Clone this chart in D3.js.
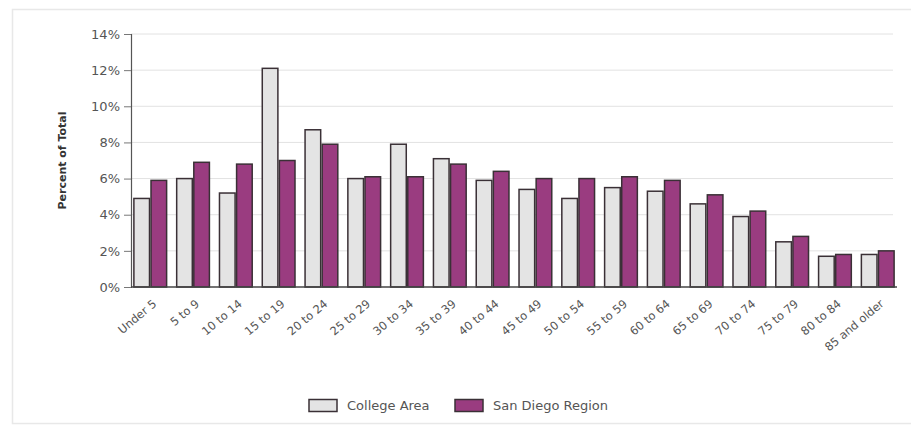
<!DOCTYPE html>
<html>
<head>
<meta charset="utf-8">
<script src="https://cdn.jsdelivr.net/npm/d3@7"></script>
<style>
  html, body { margin: 0; padding: 0; background: #fff; }
  svg { display: block; }
</style>
</head>
<body>
<svg id="chart" width="911" height="430"></svg>
<script>
const categories = ["Under 5","5 to 9","10 to 14","15 to 19","20 to 24","25 to 29","30 to 34","35 to 39","40 to 44","45 to 49","50 to 54","55 to 59","60 to 64","65 to 69","70 to 74","75 to 79","80 to 84","85 and older"];
const collegeArea = [4.9, 6.0, 5.2, 12.1, 8.7, 6.0, 7.9, 7.1, 5.9, 5.4, 4.9, 5.5, 5.3, 4.6, 3.9, 2.5, 1.7, 1.8];
const sanDiegoRegion = [5.9, 6.9, 6.8, 7.0, 7.9, 6.1, 6.1, 6.8, 6.4, 6.0, 6.0, 6.1, 5.9, 5.1, 4.2, 2.8, 1.8, 2.0];
const yTicks = [0, 2, 4, 6, 8, 10, 12, 14];
const seriesNames = ["College Area", "San Diego Region"];
const seriesColors = ["#e4e4e4", "#9a3c80"];

(function () {
const svg = d3.select("#chart");
const font = "'DejaVu Sans', Verdana, sans-serif";

// frame
svg.append("rect").attr("x", 12.5).attr("y", 9.5).attr("width", 905).attr("height", 414)
  .attr("fill", "none").attr("stroke", "#e8e8e8").attr("stroke-width", 1.5);

const pLeft = 131, pRight = 897, pTop = 34, pBottom = 287;
const x = d3.scaleBand().domain(categories).range([pLeft, pRight]).paddingInner(0.2).paddingOuter(0.05);
const xs = d3.scaleBand().domain(seriesNames).range([0, x.bandwidth()]).padding(0);
const y = d3.scaleLinear().domain([0, 14]).range([pBottom, pTop]);

// gridlines
svg.append("g").selectAll("line").data(yTicks.filter(d => d > 0)).join("line")
  .attr("x1", pLeft).attr("x2", 893)
  .attr("y1", d => y(d)).attr("y2", d => y(d))
  .attr("stroke", "#e2e2e2").attr("stroke-width", 1);

// y axis
const yAxis = svg.append("g").attr("transform", `translate(${pLeft},0)`)
  .call(d3.axisLeft(y).tickValues(yTicks).tickFormat(d => d + "%").tickSize(7).tickPadding(4));
yAxis.select(".domain").attr("stroke", "#555").attr("stroke-width", 1.2);
yAxis.selectAll(".tick line").attr("stroke", "#777");
yAxis.selectAll(".tick text").attr("font-family", font).attr("font-size", "13px").attr("fill", "#555");

// y label
svg.append("text").attr("transform", `translate(66,${(pTop + pBottom) / 2}) rotate(-90)`)
  .attr("text-anchor", "middle").attr("font-family", font).attr("font-size", "11px")
  .attr("font-weight", "bold").attr("fill", "#333").text("Percent of Total");

// bars
const groups = svg.append("g").selectAll("g").data(categories).join("g")
  .attr("transform", d => `translate(${x(d)},0)`);
groups.selectAll("rect").data((d, i) => [
    { s: seriesNames[0], v: collegeArea[i], c: seriesColors[0] },
    { s: seriesNames[1], v: sanDiegoRegion[i], c: seriesColors[1] }
  ]).join("rect")
  .attr("x", d => xs(d.s) + 0.75)
  .attr("width", xs.bandwidth() - 1.5)
  .attr("y", d => y(d.v))
  .attr("height", d => y(0) - y(d.v))
  .attr("fill", d => d.c)
  .attr("stroke", "#3a3036").attr("stroke-width", 1.5);

// x baseline
svg.append("line").attr("x1", pLeft).attr("x2", pRight).attr("y1", pBottom).attr("y2", pBottom)
  .attr("stroke", "#444").attr("stroke-width", 1.5);

// x labels
svg.append("g").selectAll("text").data(categories).join("text")
  .attr("transform", d => `translate(${x(d) + x.bandwidth() / 2 + 7},${pBottom + 18}) rotate(-40)`)
  .attr("text-anchor", "end").attr("font-family", font).attr("font-size", "11.5px")
  .attr("fill", "#555").text(d => d);

// legend
const legend = svg.append("g");
const legendItems = [
  { name: seriesNames[0], color: seriesColors[0], x: 309 },
  { name: seriesNames[1], color: seriesColors[1], x: 455 }
];
legendItems.forEach(it => {
  legend.append("rect").attr("x", it.x).attr("y", 399.5).attr("width", 28).attr("height", 12)
    .attr("fill", it.color).attr("stroke", "#3a3036").attr("stroke-width", 1.5);
  legend.append("text").attr("x", it.x + 38).attr("y", 410).attr("font-family", font)
    .attr("font-size", "13px").attr("fill", "#555").text(it.name);
});
})();
</script>
</body>
</html>
